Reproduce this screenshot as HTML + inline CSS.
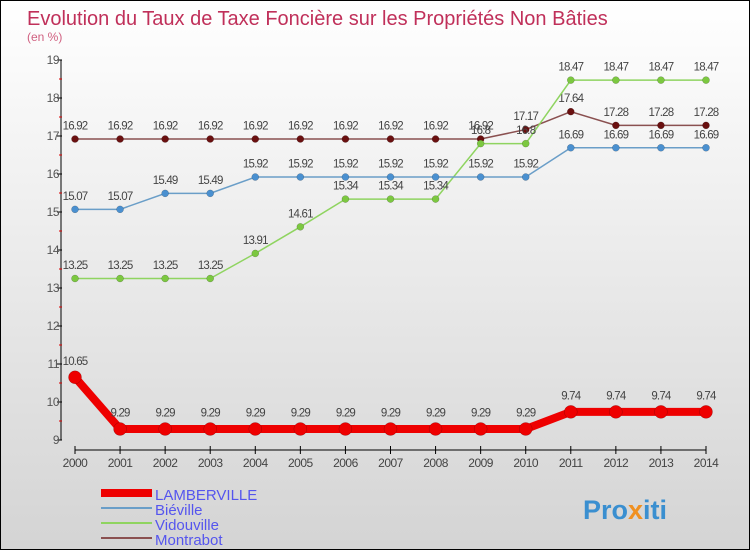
<!DOCTYPE html>
<html><head><meta charset="utf-8"><style>
body{margin:0}
#c{position:relative;width:748px;height:548px;border:1px solid #000;background:linear-gradient(#fff,#d4d4d4);font-family:"Liberation Sans",sans-serif;overflow:hidden}
</style></head><body>
<div id="c">
<svg id="s" width="748" height="548" xmlns="http://www.w3.org/2000/svg">
<text x="26" y="24" font-size="20" fill="#c0305a">Evolution du Taux de Taxe Foncière sur les Propriétés Non Bâties</text>
<text x="26" y="40" font-size="12" fill="#d06080">(en %)</text>
<g id="axes"></g><g id="series"></g>
<g>
<line x1="100" y1="492" x2="151" y2="492" stroke="#e00" stroke-width="8"/>
<text x="154" y="499" font-size="15" fill="#5555ee">LAMBERVILLE</text>
<line x1="100" y1="507" x2="151" y2="507" stroke="#6a9ec8" stroke-width="2"/>
<text x="154" y="514" font-size="15" fill="#5555ee">Biéville</text>
<line x1="100" y1="522" x2="151" y2="522" stroke="#8fd460" stroke-width="2"/>
<text x="154" y="529" font-size="15" fill="#5555ee">Vidouville</text>
<line x1="100" y1="537" x2="151" y2="537" stroke="#8a5050" stroke-width="2"/>
<text x="154" y="544" font-size="15" fill="#5555ee">Montrabot</text>
</g>
<text x="582" y="518" font-size="27" font-weight="bold" fill="#3a8fd0">Pro<tspan fill="#f09020">x</tspan>iti</text>
</svg></div>
<script>
const years=[2000,2001,2002,2003,2004,2005,2006,2007,2008,2009,2010,2011,2012,2013,2014];
const yTicks=[9,10,11,12,13,14,15,16,17,18,19];
const lamberville=[10.65,9.29,9.29,9.29,9.29,9.29,9.29,9.29,9.29,9.29,9.29,9.74,9.74,9.74,9.74];
const bieville=[15.07,15.07,15.49,15.49,15.92,15.92,15.92,15.92,15.92,15.92,15.92,16.69,16.69,16.69,16.69];
const vidouville=[13.25,13.25,13.25,13.25,13.91,14.61,15.34,15.34,15.34,16.8,16.8,18.47,18.47,18.47,18.47];
const montrabot=[16.92,16.92,16.92,16.92,16.92,16.92,16.92,16.92,16.92,16.92,17.17,17.64,17.28,17.28,17.28];
const NS="http://www.w3.org/2000/svg";
const X=i=>74+i*(705-74)/14, Y=v=>439-(v-9)*38;
function mk(t,a,p){const e=document.createElementNS(NS,t);for(const k in a)e.setAttribute(k,a[k]);p.appendChild(e);return e;}
const ax=document.getElementById('axes');
const yl=mk('line',{x1:60,y1:Y(19),x2:60,y2:Y(9),stroke:'#000'},ax);


yTicks.forEach((v,k)=>{
 mk('line',{x1:56,y1:Y(v),x2:61,y2:Y(v),stroke:'#000'},ax);
 if(k<yTicks.length-1)mk('line',{x1:58,y1:Y(v+0.5),x2:61,y2:Y(v+0.5),stroke:'#d00'},ax);
 const t=mk('text',{x:58,y:Y(v)+4,'font-size':12,fill:'#555','text-anchor':'end','letter-spacing':'-0.5'},ax);t.textContent=v;
 
 
});
const xl=mk('line',{x1:X(0),y1:449,x2:X(14),y2:449,stroke:'#000'},ax);


years.forEach((y,i)=>{
 mk('line',{x1:X(i),y1:445,x2:X(i),y2:453,stroke:'#000'},ax);
 const t=mk('text',{x:X(i),y:466,'font-size':12,fill:'#444','text-anchor':'middle','letter-spacing':'-0.5'},ax);t.textContent=y;
 
 
});
const sg=document.getElementById('series');
function draw(name,vals,col,dot,w,r){
 const g=mk('g',{},sg);
 
 
 const pl=mk('polyline',{points:vals.map((v,i)=>X(i)+','+Y(v)).join(' '),fill:'none',stroke:col,'stroke-width':w},g);
 
 
 vals.forEach((v,i)=>{
  const c=mk('circle',{cx:X(i),cy:Y(v),r:r,fill:dot,stroke:'rgba(0,0,0,0.3)','stroke-width':0.5},g);
  
  
  const t=mk('text',{x:X(i),y:Y(v)-(r+6),'font-size':11.5,fill:'#444','text-anchor':'middle','letter-spacing':'-0.8'},g);t.textContent=v;
  
  
 });
}
draw('montrabot',montrabot,'#8a5050','#6a1010',1.5,3.5);
draw('vidouville',vidouville,'#8fd460','#7cc840',1.5,3.5);
draw('bieville',bieville,'#6a9ec8','#4a90d0',1.5,3.5);
draw('lamberville',lamberville,'#e00','#e00',8,6.5);
</script>
</body></html>
